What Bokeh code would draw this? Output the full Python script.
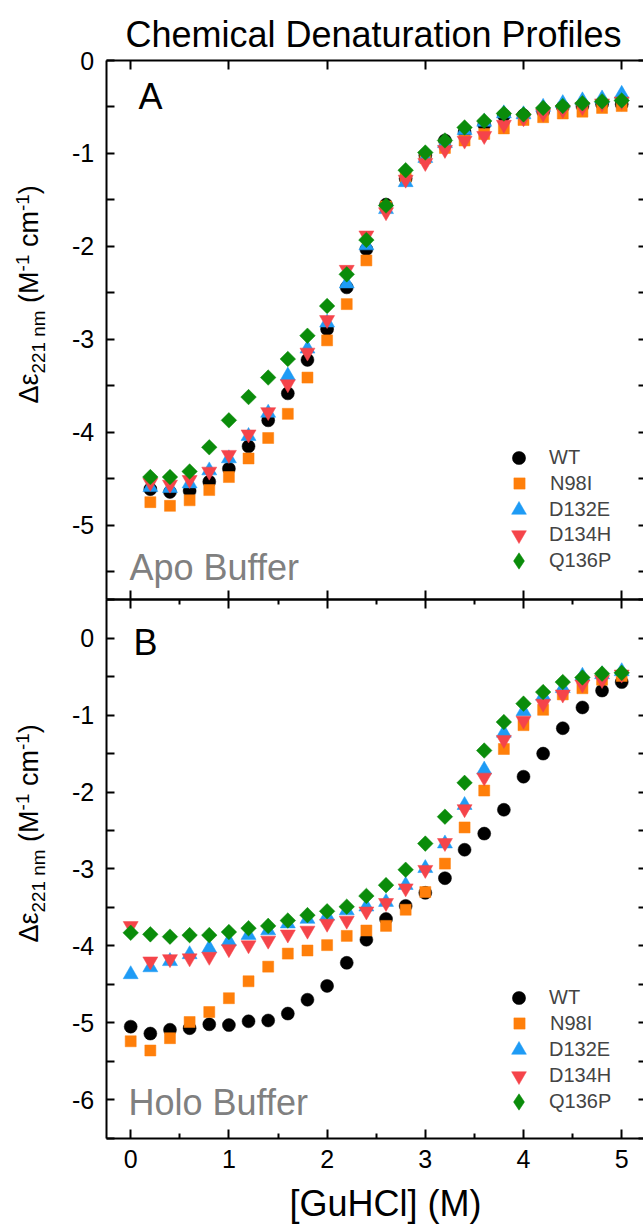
import numpy as np
from bokeh.plotting import figure
from bokeh.models import LinearAxis, FixedTicker, Label, Legend, LegendItem, Range1d
from bokeh.embed import file_html
from bokeh.resources import INLINE

# ---------------- data ----------------
SERIES = ["WT", "N98I", "D132E", "D134H", "Q136P"]

GUHCL_APO = [0.2, 0.4, 0.6, 0.8, 1.0, 1.2, 1.4, 1.6, 1.8, 2.0, 2.2, 2.4, 2.6,
             2.8, 3.0, 3.2, 3.4, 3.6, 3.8, 4.0, 4.2, 4.4, 4.6, 4.8, 5.0]
WT_APO = [-4.61, -4.64, -4.63, -4.53, -4.39, -4.15, -3.87, -3.58, -3.22, -2.89, -2.44, -2.03, -1.55,
          -1.27, -1.02, -0.86, -0.77, -0.69, -0.59, -0.59, -0.55, -0.50, -0.49, -0.47, -0.47]
N98I_APO = [-4.75, -4.79, -4.73, -4.62, -4.48, -4.28, -4.06, -3.80, -3.41, -3.01, -2.62, -2.15, -1.57,
            -1.25, -1.05, -0.94, -0.86, -0.79, -0.73, -0.64, -0.61, -0.57, -0.55, -0.51, -0.49]
D132E_APO = [-4.59, -4.60, -4.55, -4.41, -4.28, -4.04, -3.79, -3.39, -3.10, -2.82, -2.40, -1.99, -1.60,
             -1.31, -1.05, -0.89, -0.75, -0.66, -0.57, -0.58, -0.50, -0.46, -0.43, -0.41, -0.36]
D134H_APO = [-4.54, -4.56, -4.51, -4.42, -4.24, -4.02, -3.78, -3.48, -3.14, -2.79, -2.25, -1.88, -1.63,
             -1.28, -1.10, -0.96, -0.86, -0.81, -0.69, -0.62, -0.57, -0.53, -0.50, -0.46, -0.44]
Q136P_APO = [-4.48, -4.48, -4.42, -4.16, -3.87, -3.62, -3.41, -3.21, -2.96, -2.64, -2.30, -1.93, -1.56,
             -1.18, -0.99, -0.86, -0.72, -0.65, -0.57, -0.58, -0.51, -0.49, -0.46, -0.44, -0.43]

GUHCL_HOLO = [0.0, 0.2, 0.4, 0.6, 0.8, 1.0, 1.2, 1.4, 1.6, 1.8, 2.0, 2.2, 2.4, 2.6,
              2.8, 3.0, 3.2, 3.4, 3.6, 3.8, 4.0, 4.2, 4.4, 4.6, 4.8, 5.0]
WT_HOLO = [-5.05, -5.14, -5.09, -5.07, -5.02, -5.03, -4.98, -4.97, -4.88, -4.70, -4.52, -4.22, -3.92,
           -3.65, -3.48, -3.31, -3.12, -2.75, -2.54, -2.23, -1.80, -1.50, -1.17, -0.90, -0.68, -0.57]
N98I_HOLO = [-5.24, -5.36, -5.20, -4.99, -4.86, -4.68, -4.46, -4.27, -4.10, -4.06, -3.99, -3.87, -3.80,
             -3.74, -3.53, -3.30, -2.93, -2.46, -1.98, -1.44, -1.13, -0.93, -0.73, -0.65, -0.54, -0.49]
D132E_HOLO = [-4.37, -4.28, -4.20, -4.11, -4.03, -3.94, -3.86, -3.80, -3.71, -3.65, -3.61, -3.54, -3.49,
              -3.43, -3.21, -2.99, -2.67, -2.17, -1.71, -1.23, -0.95, -0.75, -0.65, -0.49, -0.47, -0.43]
D134H_HOLO = [-3.74, -4.20, -4.17, -4.16, -4.14, -4.04, -3.99, -3.93, -3.85, -3.80, -3.71, -3.67, -3.55,
              -3.44, -3.25, -3.01, -2.66, -2.22, -1.81, -1.32, -1.07, -0.85, -0.73, -0.60, -0.54, -0.47]
Q136P_HOLO = [-3.83, -3.85, -3.88, -3.86, -3.86, -3.82, -3.77, -3.74, -3.67, -3.60, -3.55, -3.49, -3.35,
              -3.21, -3.01, -2.67, -2.32, -1.88, -1.46, -1.09, -0.85, -0.70, -0.57, -0.51, -0.46, -0.45]

X_TICKS = [0, 1, 2, 3, 4, 5]
X_MINOR = [0.5, 1.5, 2.5, 3.5, 4.5]
Y_TICKS_APO = [0, -1, -2, -3, -4, -5]
Y_MINOR_APO = [-0.5, -1.5, -2.5, -3.5, -4.5, -5.5]
Y_TICKS_HOLO = [0, -1, -2, -3, -4, -5, -6]
Y_MINOR_HOLO = [0.5, -0.5, -1.5, -2.5, -3.5, -4.5, -5.5, -6.5]

TITLE = "Chemical Denaturation Profiles"
X_LABEL = "[GuHCl] (M)"

# ---------------- style / geometry ----------------
FONT = "Liberation Sans"
COLORS = ["#000000", "#FF7F0A", "#1E9BF5", "#F5444A", "#0A8C0A"]
MARKERS = ["circle", "square", "triangle", "inverted_triangle", "square"]
LEGEND_MARKERS = ["circle", "square", "triangle", "inverted_triangle", "diamond"]
SIZES = [13, 11, 15, 15, 11]
ANGLES = [0, 0, 0, 0, np.pi / 4]
LEGEND_BOX = [33, 28, 37, 37, 41]   # legend glyph box -> marker size = 0.4 * box

W, H = 643, 1232
XPX0, XPPU = 130.2, 98.2          # page x of GuHCl=0, px per M
APO_TOP, APO_PPU = 60.0, 92.98    # page y of 0, px per unit (top panel)
HOLO_TOP, HOLO_PPU = 599.3, 76.91 # page y of +0.5, px per unit (bottom panel)
BASE_FIX = 0.333                  # baseline correction for Label text (fraction of font size)

XLIM = (-0.25, 5.25)
APO_LIM = (-5.8, 0.0)
HOLO_LIM = (-6.5, 0.5)

p = figure(width=W, height=H, x_range=Range1d(0, W), y_range=Range1d(H, 0),
           toolbar_location=None, output_backend="svg",
           x_axis_location=None, y_axis_location=None,
           min_border_left=0, min_border_right=0, min_border_top=0, min_border_bottom=0)
p.grid.visible = False
p.outline_line_color = None
p.background_fill_color = "white"
p.border_fill_color = "white"

p.extra_x_ranges = {"gu": Range1d(-XPX0 / XPPU, (W - XPX0) / XPPU)}
p.extra_y_ranges = {
    "apo": Range1d(-(H - APO_TOP) / APO_PPU, APO_TOP / APO_PPU),
    "holo": Range1d(0.5 - (H - HOLO_TOP) / HOLO_PPU, 0.5 + HOLO_TOP / HOLO_PPU),
}


def style_axis(ax, labels, tick_in, minor_in):
    ax.axis_line_width = 2
    ax.axis_line_color = "black"
    ax.major_tick_line_width = 2
    ax.minor_tick_line_width = 2
    ax.major_tick_in = tick_in
    ax.major_tick_out = 0
    ax.minor_tick_in = minor_in
    ax.minor_tick_out = 0
    if labels:
        ax.major_label_text_font = FONT
        ax.major_label_text_font_size = "25px"
        ax.major_label_text_color = "black"
        ax.major_label_standoff = 12
    else:
        ax.major_label_text_color = None
        ax.major_label_text_alpha = 0
        ax.major_label_standoff = 0


def add_axes(yname, ylim, yt, ym, x_minor, x_labels):
    ylab = {v: str(v) for v in yt}
    xlab = {v: str(v) for v in X_TICKS}
    for side, loc in (("left", XLIM[0]), ("right", XLIM[1])):
        ax = LinearAxis(x_range_name="gu", y_range_name=yname, fixed_location=loc, bounds=ylim,
                        ticker=FixedTicker(ticks=yt, minor_ticks=ym))
        style_axis(ax, side == "left", 8, 8)
        if side == "left":
            ax.major_label_overrides = ylab
        p.add_layout(ax, side)
    for side, loc in (("above", ylim[1]), ("below", ylim[0])):
        ax = LinearAxis(x_range_name="gu", y_range_name=yname, fixed_location=loc, bounds=XLIM,
                        ticker=FixedTicker(ticks=X_TICKS, minor_ticks=(X_MINOR if x_minor else [])))
        style_axis(ax, x_labels and side == "below", 9, 5)
        if x_labels and side == "below":
            ax.major_label_overrides = xlab
        p.add_layout(ax, side)


def add_series(yname, x, ys, row_centers, marker_px=519, text_px=550):
    for name, y, c, m, lm, s, a, box, rc in zip(SERIES, ys, COLORS, MARKERS, LEGEND_MARKERS,
                                                 SIZES, ANGLES, LEGEND_BOX, row_centers):
        r = p.scatter(x, y, marker=m, size=s, angle=a, fill_color=c, line_color=c, line_width=0.5,
                      x_range_name="gu", y_range_name=yname)
        if lm != m:
            # legend swatch only (legend glyphs are never rotated)
            r = p.scatter([float("nan")], [float("nan")], marker=lm, size=s, fill_color=c,
                          line_color=c, line_width=0.5, x_range_name="gu", y_range_name=yname)
        left = marker_px - box / 2.0
        lg = Legend(items=[LegendItem(label=name, renderers=[r])],
                    location=(int(round(left)), int(round(H - (rc + box / 2.0)))),
                    padding=0, spacing=0, margin=0,
                    glyph_width=box, glyph_height=box, label_height=box,
                    label_standoff=int(round(text_px - left - box)),
                    label_text_font=FONT, label_text_font_size="20px",
                    border_line_color=None, background_fill_alpha=0)
        p.add_layout(lg, "center")


def txt(x, y, s, size, color="black", align="left", angle=0.0):
    # Label places alphabetic baselines ~1/3 em low; compensate along the text's normal
    d = BASE_FIX * size
    if angle:
        x -= d
    else:
        y -= d
    p.add_layout(Label(x=x, y=y, text=s, text_font=FONT, text_font_size=f"{size}px",
                       text_color=color, text_align=align, text_baseline="alphabetic",
                       angle=angle))


ADV = {"Δ": 0.668, "ε": 0.446, " ": 0.278, "(": 0.333, ")": 0.333, "M": 0.833,
       "c": 0.5, "m": 0.833, "n": 0.556, "-": 0.333}


def adv(s):
    return sum(ADV.get(ch, 0.556) for ch in s)


def ylabel(base_px, start_py, F):
    # (text, relative size, baseline shift in em (+ = up), advance before text in em of F)
    segs = [("Δε", 1.0, 0.0, 0.0), ("221 nm", 0.7, -0.28, 0.0), ("(M", 1.0, 0.0, 0.278),
            ("-1", 0.7, 0.32, 0.0), ("cm", 1.0, 0.0, 0.278), ("-1", 0.7, 0.32, 0.0),
            (")", 1.0, 0.0, 0.0)]
    py = start_py
    for s, r, sh, pre in segs:
        size = F * r
        py -= pre * F
        txt(base_px - sh * F, py, s, round(size, 1), angle=np.pi / 2)
        py -= adv(s) * size


# ---------------- top panel (Apo) ----------------
add_axes("apo", APO_LIM, Y_TICKS_APO, Y_MINOR_APO, False, False)
add_series("apo", GUHCL_APO, [WT_APO, N98I_APO, D132E_APO, D134H_APO, Q136P_APO],
           [457.7, 483.4, 509.1, 534.8, 560.5])

# ---------------- bottom panel (Holo) ----------------
add_axes("holo", HOLO_LIM, Y_TICKS_HOLO, Y_MINOR_HOLO, True, True)
add_series("holo", GUHCL_HOLO, [WT_HOLO, N98I_HOLO, D132E_HOLO, D134H_HOLO, Q136P_HOLO],
           [997.4, 1023.3, 1049.2, 1075.1, 1101.0])

# ---------------- texts ----------------
txt(373, 46, TITLE, 36, align="center")
txt(138, 108, "A", 36)
txt(129, 579, "Apo Buffer", 36, color="#808080")
txt(133, 654, "B", 36)
txt(128, 1114, "Holo Buffer", 36, color="#808080")
txt(385, 1215, X_LABEL, 36, align="center")
ylabel(37, 403, 27)
ylabel(37, 942, 27)

open("out.html", "w").write(file_html(p, INLINE))
